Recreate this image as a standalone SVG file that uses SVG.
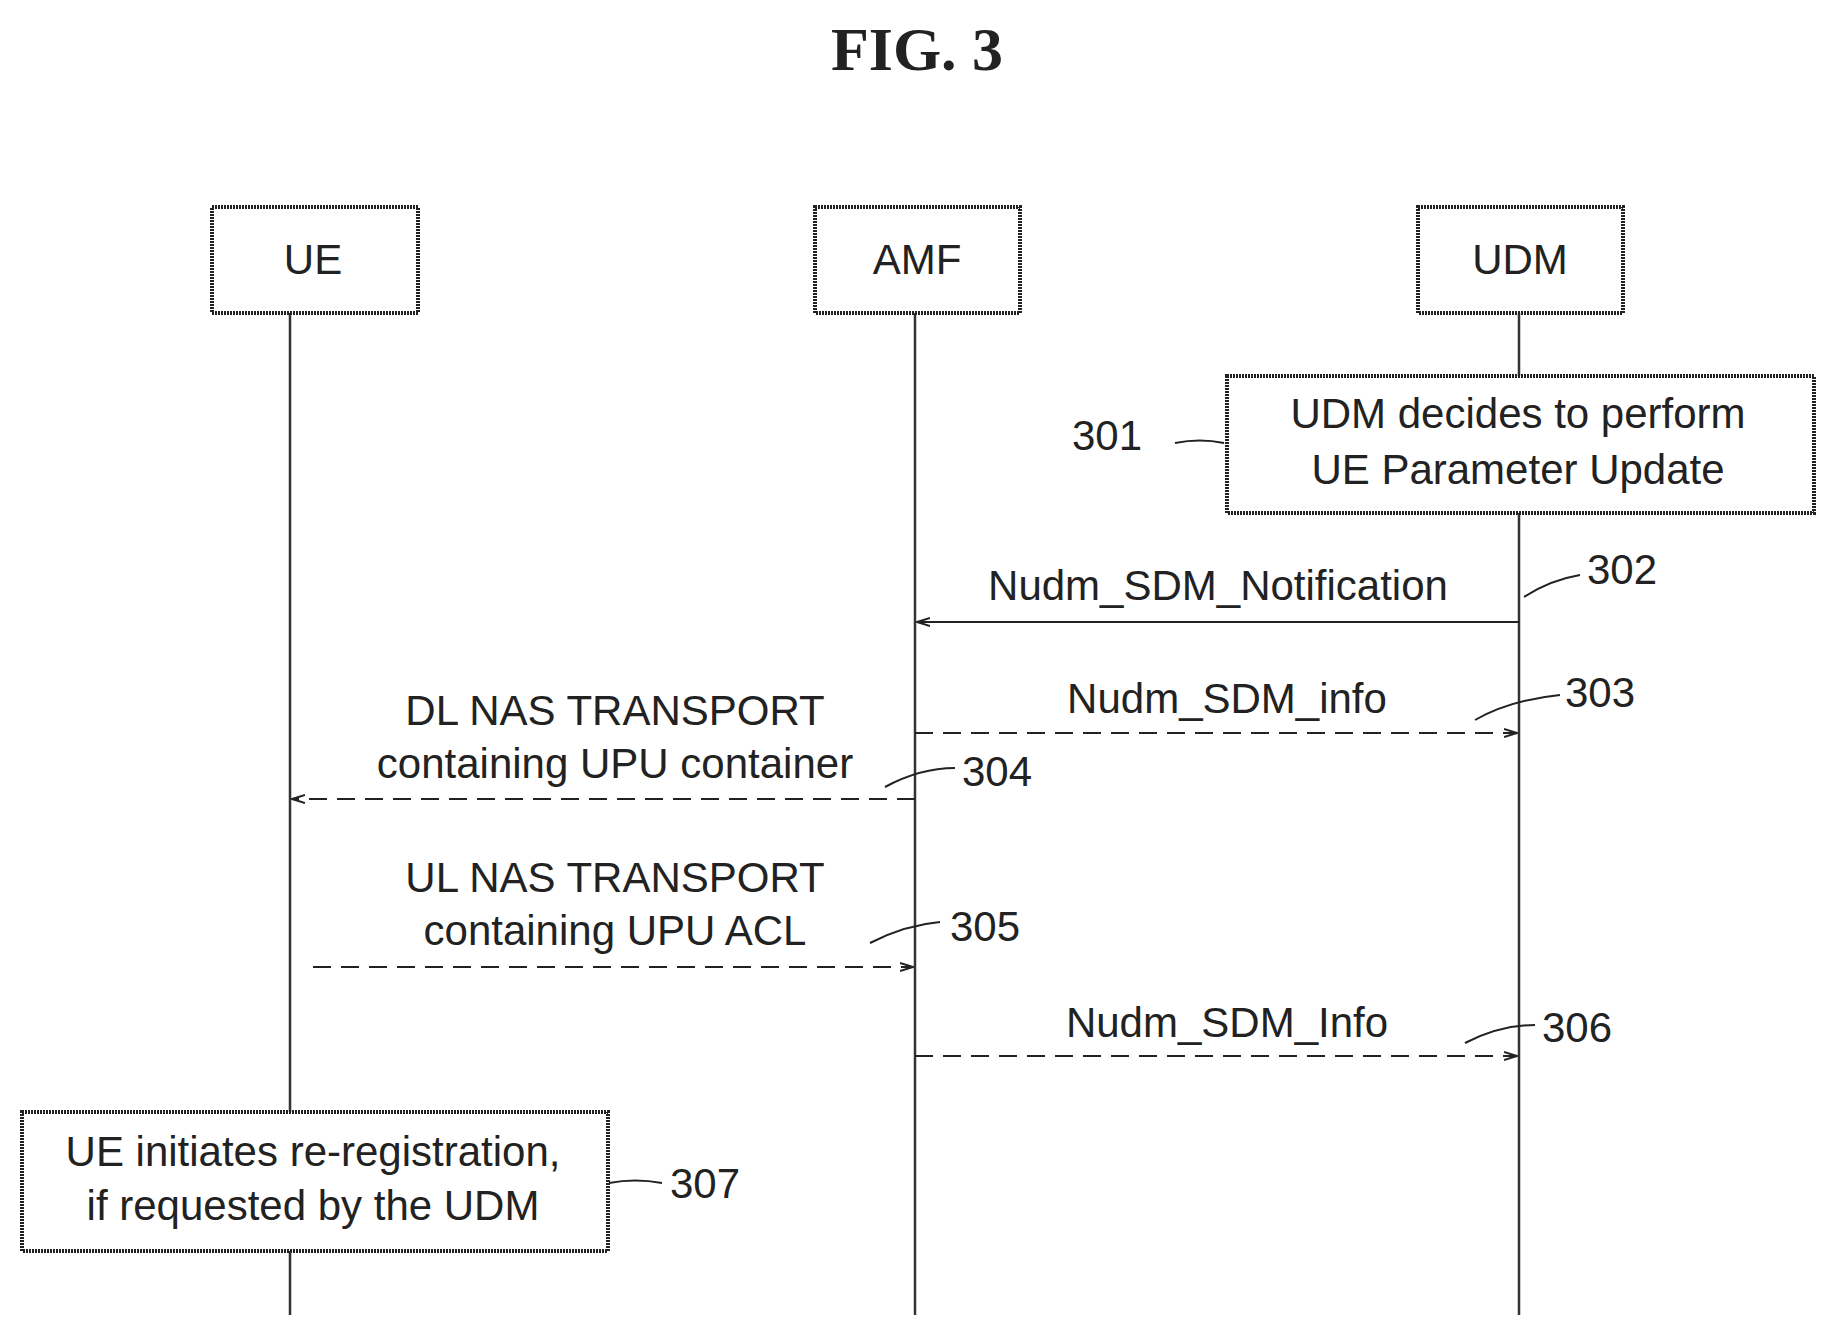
<svg xmlns="http://www.w3.org/2000/svg" width="1827" height="1328" viewBox="0 0 1827 1328">
<defs>
<marker id="ah" markerWidth="14" markerHeight="10" refX="13" refY="5" orient="auto" markerUnits="userSpaceOnUse"><path d="M0,1 L13,5 L0,9" fill="none" stroke="#222" stroke-width="2"/></marker>
<style>
.box{fill:#fff;stroke:#222;stroke-width:4;stroke-dasharray:2 1}
.t{font-family:"Liberation Sans",Arial,sans-serif;font-size:42px;fill:#222;text-anchor:middle}
.n{font-family:"Liberation Sans",Arial,sans-serif;font-size:42px;fill:#222}
.life{stroke:#333;stroke-width:2.5}
.msg{stroke:#222;stroke-width:2;fill:none;marker-end:url(#ah)}
.d{stroke-dasharray:18 10}
.lead{stroke:#222;stroke-width:2;fill:none}
</style>
</defs>
<rect width="1827" height="1328" fill="#fff"/>
<text x="917" y="70" font-family="Liberation Serif,serif" font-size="62" font-weight="bold" text-anchor="middle" fill="#222">FIG.  3</text>
<g id="lifelines">
<line class="life" x1="290" y1="313" x2="290" y2="1315"/>
<line class="life" x1="915" y1="313" x2="915" y2="1315"/>
<line class="life" x1="1519" y1="313" x2="1519" y2="1315"/>
</g>
<g id="UE"><rect class="box" x="212" y="207" width="206" height="106"/><text class="t" x="313" y="274">UE</text></g>
<g id="AMF"><rect class="box" x="815" y="207" width="205" height="106"/><text class="t" x="917" y="274">AMF</text></g>
<g id="UDM"><rect class="box" x="1418" y="207" width="205" height="106"/><text class="t" x="1520" y="274">UDM</text></g>
<g id="n301"><rect class="box" x="1227" y="376" width="587" height="137"/><text class="t" x="1518" y="428">UDM decides to perform</text><text class="t" x="1518" y="484">UE Parameter Update</text></g>
<g id="n307"><rect class="box" x="22" y="1112" width="586" height="139"/><text class="t" x="313" y="1166">UE initiates re-registration,</text><text class="t" x="313" y="1220">if requested by the UDM</text></g>
<g id="connectors">
<line class="msg" x1="1519" y1="622" x2="917" y2="622"/>
<line class="msg d" x1="915" y1="733" x2="1517" y2="733"/>
<line class="msg d" x1="915" y1="799" x2="292" y2="799"/>
<line class="msg d" x1="313" y1="967" x2="913" y2="967"/>
<line class="msg d" x1="915" y1="1056" x2="1517" y2="1056"/>
<path class="lead" d="M1175,443 Q1200,438 1224,443"/>
<path class="lead" d="M1524,597 Q1550,580 1580,575"/>
<path class="lead" d="M1475,720 Q1510,700 1560,695"/>
<path class="lead" d="M885,787 Q920,768 955,768"/>
<path class="lead" d="M870,943 Q905,925 940,922"/>
<path class="lead" d="M1465,1043 Q1500,1025 1535,1025"/>
<path class="lead" d="M609,1183 Q635,1178 662,1183"/>
</g>
<g id="labels">
<text class="t" x="1218" y="600">Nudm_SDM_Notification</text>
<text class="t" x="1227" y="713">Nudm_SDM_info</text>
<text class="t" x="615" y="725">DL NAS TRANSPORT</text>
<text class="t" x="615" y="778">containing UPU container</text>
<text class="t" x="615" y="892">UL NAS TRANSPORT</text>
<text class="t" x="615" y="945">containing UPU ACL</text>
<text class="t" x="1227" y="1037">Nudm_SDM_Info</text>
<text class="n" x="1072" y="450">301</text>
<text class="n" x="1587" y="584">302</text>
<text class="n" x="1565" y="707">303</text>
<text class="n" x="962" y="786">304</text>
<text class="n" x="950" y="941">305</text>
<text class="n" x="1542" y="1042">306</text>
<text class="n" x="670" y="1198">307</text>
</g>
</svg>
